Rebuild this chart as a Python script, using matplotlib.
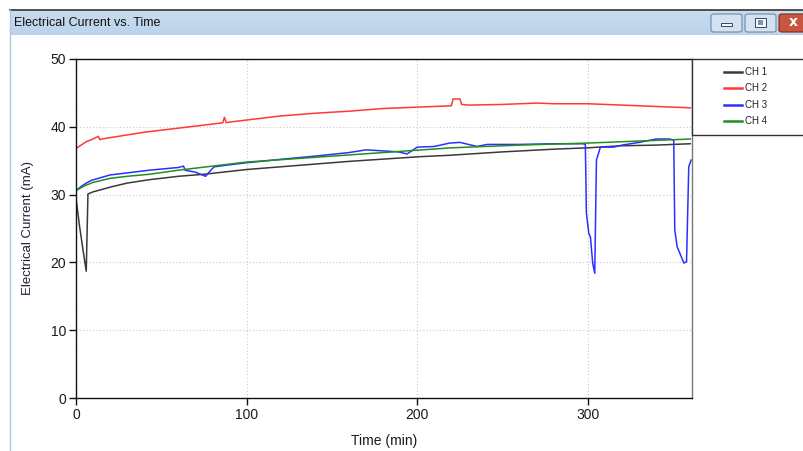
import matplotlib
matplotlib.use("Agg")
import matplotlib.pyplot as plt
import numpy as np
from matplotlib.patches import Rectangle, FancyBboxPatch
from matplotlib.lines import Line2D
from matplotlib.colors import LinearSegmentedColormap

# ---------------- data ----------------
t1 = [0, 2, 4, 6, 7, 10, 20, 30, 43, 50, 60, 75, 100, 130, 160, 190, 202, 219, 250, 280, 300, 319, 340, 360]
v1 = [29.5, 25.5, 22.0, 18.7, 30.1, 30.4, 31.1, 31.7, 32.2, 32.4, 32.7, 33.0, 33.7, 34.3, 34.9, 35.4, 35.6, 35.8, 36.3, 36.7, 36.9, 37.2, 37.3, 37.5]

t2 = [0, 3, 6, 10, 13, 14, 15, 20, 30, 40, 50, 60, 70, 80, 86, 87, 88, 90, 100, 120, 140, 160, 180, 200, 210, 220, 221, 225, 226, 230, 250, 270, 280, 300, 320, 340, 360]
v2 = [36.8, 37.3, 37.8, 38.2, 38.6, 38.1, 38.2, 38.4, 38.8, 39.2, 39.5, 39.8, 40.1, 40.4, 40.6, 41.4, 40.6, 40.7, 41.0, 41.6, 42.0, 42.3, 42.7, 42.9, 43.0, 43.1, 44.1, 44.1, 43.3, 43.2, 43.3, 43.5, 43.4, 43.4, 43.2, 43.0, 42.8]

t3 = [0, 3, 6, 9, 20, 30, 43, 60, 63, 64, 70, 76, 79, 81, 90, 100, 120, 141, 160, 170, 189, 194, 200, 210, 219, 225, 235, 241, 260, 280, 297, 298.5, 299.1, 300.5, 301.5, 302.8, 304, 305, 307.3, 315, 320, 330, 340, 348, 350.3, 350.9, 352.3, 354.3, 356.2, 357.8, 359.1, 360.5]
v3 = [30.6, 31.2, 31.7, 32.1, 32.9, 33.2, 33.6, 34.0, 34.2, 33.6, 33.3, 32.7, 33.6, 34.1, 34.4, 34.7, 35.2, 35.7, 36.2, 36.6, 36.3, 36.0, 37.0, 37.1, 37.6, 37.7, 37.1, 37.4, 37.4, 37.5, 37.5, 37.4, 27.3, 24.3, 23.7, 19.9, 18.4, 35.1, 37.0, 37.0, 37.3, 37.7, 38.2, 38.2, 38.0, 24.8, 22.3, 21.1, 19.9, 20.1, 34.1, 35.1]

t4 = [0, 5, 10, 20, 30, 43, 60, 80, 100, 140, 180, 220, 260, 300, 330, 360]
v4 = [30.6, 31.3, 31.8, 32.4, 32.7, 33.0, 33.6, 34.2, 34.8, 35.5, 36.2, 36.9, 37.3, 37.6, 37.9, 38.2]

series_names = ["CH 1", "CH 2", "CH 3", "CH 4"]
series_colors = ["#3a3a3a", "#ff3838", "#2e2eff", "#1f8f1f"]

x_ticks = [0, 100, 200, 300]
y_ticks = [0, 10, 20, 30, 40, 50]

W, H = 804, 451
fig = plt.figure(figsize=(W / 100, H / 100), dpi=100)
fig.patch.set_facecolor("white")

def fx(px):
    return px / W

def fy(py):
    return 1 - py / H

# ---------------- window chrome ----------------
grad_ax = fig.add_axes([fx(10), fy(35), fx(804 - 10), (35 - 10) / H])
grad = np.linspace(0, 1, 50).reshape(-1, 1)
cm = LinearSegmentedColormap.from_list("tb", ["#bcd3eb", "#c9dcf0"])
grad_ax.imshow(grad, aspect="auto", cmap=cm, extent=[0, 1, 0, 1], origin="lower")
grad_ax.set_axis_off()

fig.add_artist(Line2D([fx(10), 1], [fy(9.5), fy(9.5)], color="#333333", lw=1.2, transform=fig.transFigure))
fig.add_artist(Line2D([fx(10.5), fx(10.5)], [0, fy(10)], color="#a9c8e8", lw=1.0, transform=fig.transFigure))
fig.text(fx(14), fy(23), "Electrical Current vs. Time", fontsize=9, va="center", ha="left",
         family=["Liberation Sans", "DejaVu Sans"], color="#111111")

def button(x0, x1, face, edge):
    p = FancyBboxPatch((fx(x0), fy(32)), fx(x1 - x0), (32 - 14) / H,
                       boxstyle="round,pad=0,rounding_size=0.004",
                       transform=fig.transFigure, facecolor=face, edgecolor=edge, lw=0.8)
    fig.add_artist(p)

button(711, 742, "#d3e2f2", "#6d8aa8")
button(745, 776, "#d3e2f2", "#6d8aa8")
button(779, 806, "#c8563e", "#7a2a1c")
fig.add_artist(Rectangle((fx(721), fy(26)), fx(11), 3 / H, transform=fig.transFigure,
                         facecolor="#f4f7fb", edgecolor="#36485c", lw=0.7))
fig.add_artist(Rectangle((fx(755), fy(27)), fx(11), 9 / H, transform=fig.transFigure,
                         facecolor="#f4f7fb", edgecolor="#36485c", lw=0.7))
fig.add_artist(Rectangle((fx(758), fy(24.5)), fx(5), 4 / H, transform=fig.transFigure,
                         facecolor="#7f93a8", edgecolor="none"))
fig.text(fx(793), fy(22.5), "x", fontsize=10, fontweight="bold", color="white",
         ha="center", va="center", family=["DejaVu Sans"])

# ---------------- plot ----------------
ax = fig.add_axes([fx(76), fy(398), fx(692 - 76), (398 - 59) / H])
data = [(t1, v1), (t2, v2), (t3, v3), (t4, v4)]
for (t, v), c, n in zip(data, series_colors, series_names):
    ax.plot(t, v, color=c, lw=1.1, label=n, solid_joinstyle="round")

ax.set_xlim(0, 361)
ax.set_ylim(0, 50)
ax.set_xticks(x_ticks)
ax.set_yticks(y_ticks)
ax.grid(True, color="#c8c8c8", linestyle=(0, (1, 2)), lw=0.8)
ax.set_axisbelow(True)
for sp in ax.spines.values():
    sp.set_color("#111111")
    sp.set_linewidth(1.0)
ax.spines["right"].set_color("#777777")
ax.tick_params(direction="out", length=5, width=1, color="#111111", labelsize=10, pad=2)
narrow = ["Liberation Sans Narrow", "Liberation Sans", "DejaVu Sans"]
for lab in ax.get_xticklabels() + ax.get_yticklabels():
    lab.set_family(narrow)
    lab.set_color("#1a1a1a")
ax.set_xlabel("Time (min)", fontsize=10, family=narrow, color="#1a1a1a", labelpad=9)
ax.set_ylabel("Electrical Current (mA)", fontsize=9.5, family=["Liberation Sans", "DejaVu Sans"],
              color="#2a1a38", labelpad=12)

# ---------------- legend box ----------------
fig.add_artist(Rectangle((fx(692), fy(135)), fx(130), (135 - 59) / H, transform=fig.transFigure,
                         facecolor="white", edgecolor="#333333", lw=1.0, clip_on=False))
rows = [72, 88, 105, 121]
for n, c, r in zip(series_names, series_colors, rows):
    fig.add_artist(Line2D([fx(724), fx(742)], [fy(r), fy(r)], color=c, lw=1.8, transform=fig.transFigure))
    fig.text(fx(745), fy(r), n, fontsize=7, va="center", ha="left",
             family=["Liberation Sans", "DejaVu Sans"], color="#222222")

fig.savefig("out.png", dpi=100)
